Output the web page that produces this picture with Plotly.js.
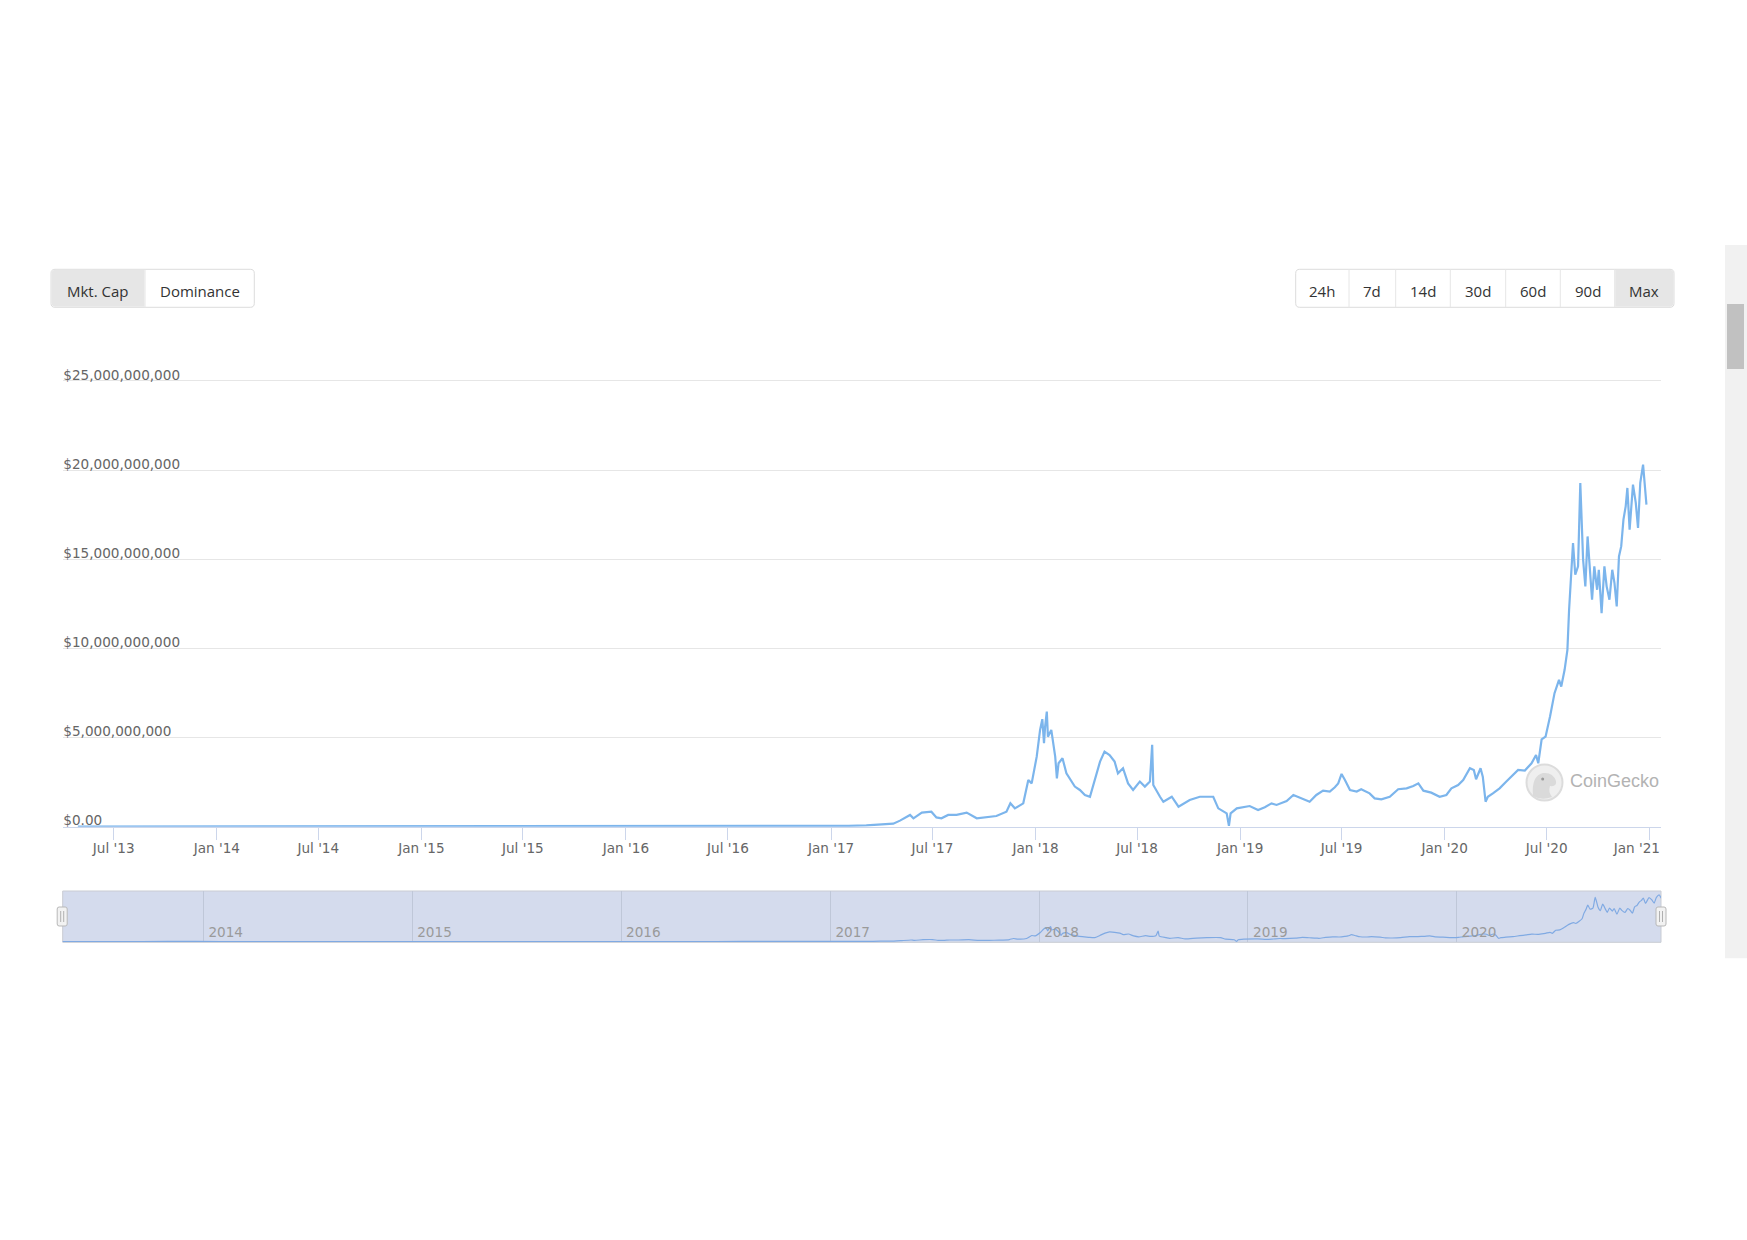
<!DOCTYPE html>
<html>
<head>
<meta charset="utf-8">
<script src="https://cdn.plot.ly/plotly-3.0.1.min.js"></script>
<style>
  html, body { margin: 0; padding: 0; background: #ffffff; }
  #chart { width: 1747px; height: 1240px; }
</style>
</head>
<body>
<div id="chart"></div>
<script>
// ---------------- DATA ----------------
const dates = [
  '2013-04-28','2013-08-01','2013-11-01','2014-02-01','2014-05-01','2014-08-01','2014-11-01',
  '2015-02-01','2015-05-01','2015-08-01','2015-11-01','2016-02-01','2016-05-01','2016-08-01',
  '2016-10-05','2016-12-01','2017-02-01','2017-03-05','2017-03-29','2017-04-22','2017-05-04',
  '2017-05-22','2017-05-28','2017-06-12','2017-06-29','2017-07-08','2017-07-17','2017-07-29',
  '2017-08-13','2017-08-31','2017-09-18','2017-10-05','2017-10-23','2017-11-10','2017-11-17',
  '2017-11-25','2017-12-10','2017-12-19','2017-12-25','2018-01-03','2018-01-09','2018-01-13',
  '2018-01-16','2018-01-18','2018-01-21','2018-01-23','2018-01-29','2018-02-05','2018-02-08',
  '2018-02-11','2018-02-18','2018-02-25','2018-03-12','2018-03-21','2018-03-30','2018-04-08',
  '2018-04-17','2018-04-26','2018-05-04','2018-05-13','2018-05-22','2018-05-28','2018-06-06',
  '2018-06-15','2018-06-24','2018-07-06','2018-07-15','2018-07-24','2018-07-28','2018-07-30',
  '2018-08-11','2018-08-17','2018-09-01','2018-09-13','2018-10-03','2018-10-21','2018-11-14',
  '2018-11-23','2018-12-08','2018-12-12','2018-12-15','2018-12-26','2019-01-18','2019-02-02',
  '2019-02-14','2019-02-26','2019-03-07','2019-03-25','2019-04-06','2019-04-18','2019-04-30',
  '2019-05-05','2019-05-17','2019-05-29','2019-06-10','2019-06-19','2019-06-25','2019-07-01',
  '2019-07-07','2019-07-16','2019-07-28','2019-08-05','2019-08-20','2019-08-29','2019-09-10',
  '2019-09-25','2019-10-10','2019-10-25','2019-11-06','2019-11-15','2019-11-24','2019-12-08',
  '2019-12-23','2020-01-04','2020-01-13','2020-01-25','2020-02-03','2020-02-15','2020-02-22',
  '2020-02-26','2020-03-05','2020-03-09','2020-03-14','2020-03-18','2020-03-27','2020-04-08',
  '2020-04-20','2020-05-02','2020-05-11','2020-05-23','2020-06-04','2020-06-12','2020-06-16',
  '2020-06-22','2020-06-29','2020-07-07','2020-07-15','2020-07-23','2020-07-27','2020-08-02',
  '2020-08-07','2020-08-10','2020-08-14','2020-08-17','2020-08-21','2020-08-26','2020-08-30',
  '2020-09-04','2020-09-08','2020-09-12','2020-09-17','2020-09-20','2020-09-24','2020-09-29',
  '2020-10-02','2020-10-07','2020-10-12','2020-10-16','2020-10-21','2020-10-26','2020-10-30',
  '2020-11-03','2020-11-07','2020-11-11','2020-11-15','2020-11-19','2020-11-22','2020-11-26',
  '2020-12-02','2020-12-07','2020-12-11','2020-12-15','2020-12-20','2020-12-23','2020-12-26'
];
// market cap in billions of USD
const marketCapBn = [
  0.004, 0.005, 0.012, 0.010, 0.006, 0.005, 0.004,
  0.003, 0.003, 0.004, 0.004, 0.005, 0.006, 0.012,
  0.05, 0.04, 0.05, 0.07, 0.12, 0.17, 0.34,
  0.66, 0.47, 0.79, 0.84, 0.52, 0.47, 0.66,
  0.66, 0.79, 0.47, 0.52, 0.60, 0.84, 1.31,
  1.03, 1.31, 2.62, 2.43, 3.93, 5.43, 6.03,
  4.68, 5.61, 6.46, 5.05, 5.43, 3.93, 2.71,
  3.56, 3.84, 2.99, 2.25, 2.06, 1.78, 1.68,
  2.62, 3.65, 4.21, 4.02, 3.65, 2.99, 3.28,
  2.43, 2.06, 2.53, 2.25, 2.53, 4.59, 2.34,
  1.68, 1.40, 1.68, 1.12, 1.50, 1.68, 1.68,
  1.03, 0.75, 0.05, 0.75, 1.03, 1.16, 0.94,
  1.09, 1.31, 1.22, 1.44, 1.78, 1.63, 1.50,
  1.40, 1.78, 2.02, 1.97, 2.21, 2.43, 2.96,
  2.62, 2.06, 1.97, 2.10, 1.87, 1.59, 1.53,
  1.68, 2.10, 2.15, 2.28, 2.43, 2.02, 1.91,
  1.68, 1.78, 2.15, 2.34, 2.62, 3.28, 3.18,
  2.66, 3.28, 2.81, 1.40, 1.68, 1.87, 2.15,
  2.53, 2.90, 3.18, 3.15, 3.56, 4.02, 3.56,
  4.90, 5.05, 6.18, 7.49, 8.24, 7.86, 8.80,
  9.92, 12.17, 14.13, 15.91, 14.13, 14.60, 19.28,
  14.98, 13.48, 16.28, 14.04, 12.73, 14.60, 13.29,
  14.41, 11.98, 14.60, 13.48, 12.73, 14.41, 13.66,
  12.35, 15.16, 15.72, 17.22, 17.97, 19.00, 16.66,
  19.19, 18.16, 16.76, 19.28, 20.31, 19.09, 18.06
];

const xTickDates  = ['2013-07-01','2014-01-01','2014-07-01','2015-01-01','2015-07-01','2016-01-01',
                     '2016-07-01','2017-01-01','2017-07-01','2018-01-01','2018-07-01','2019-01-01',
                     '2019-07-01','2020-01-01','2020-07-01','2021-01-01'];
const xTickLabels = ["Jul '13","Jan '14","Jul '14","Jan '15","Jul '15","Jan '16",
                     "Jul '16","Jan '17","Jul '17","Jan '18","Jul '18","Jan '19",
                     "Jul '19","Jan '20","Jul '20","Jan '21"];
const yTickValues = [0, 5e9, 10e9, 15e9, 20e9, 25e9];
const yTickLabels = ['$0.00','$5,000,000,000','$10,000,000,000','$15,000,000,000','$20,000,000,000','$25,000,000,000'];
const navYearDates  = ['2014-01-01','2015-01-01','2016-01-01','2017-01-01','2018-01-01','2019-01-01','2020-01-01'];
const navYearLabels = ['2014','2015','2016','2017','2018','2019','2020'];
const chartTypeButtons = ['Mkt. Cap','Dominance'];
const rangeButtons = ['24h','7d','14d','30d','60d','90d','Max'];
const watermark = 'CoinGecko';

// ---------------- LAYOUT HELPERS ----------------
const W = 1747, H = 1240;
const X = px => px / W;
const Y = py => 1 - py / H;
const mainLeft = 63.3, mainRight = 1661, mainTop = 379.9, mainBottom = 826.7;
const navLeft = 62.7, navRight = 1661, navTop = 891, navBottom = 942.3;

function rr(x0, y0, x1, y1, rTL, rTR, rBR, rBL) {
  const p = (x, y) => X(x).toFixed(6) + ',' + Y(y).toFixed(6);
  let s = 'M' + p(x0 + rTL, y0) + ' L' + p(x1 - rTR, y0);
  s += rTR ? ' Q' + p(x1, y0) + ' ' + p(x1, y0 + rTR) : '';
  s += ' L' + p(x1, y1 - rBR);
  s += rBR ? ' Q' + p(x1, y1) + ' ' + p(x1 - rBR, y1) : '';
  s += ' L' + p(x0 + rBL, y1);
  s += rBL ? ' Q' + p(x0, y1) + ' ' + p(x0, y1 - rBL) : '';
  s += ' L' + p(x0, y0 + rTL);
  s += rTL ? ' Q' + p(x0, y0) + ' ' + p(x0 + rTL, y0) : '';
  return s + ' Z';
}

const shapes = [];
const annotations = [];

// navigator background
shapes.push({type:'rect', xref:'paper', yref:'paper', layer:'below',
  x0:X(navLeft), x1:X(navRight), y0:Y(navBottom), y1:Y(navTop),
  fillcolor:'#d4dbed', line:{color:'#c9ccd3', width:1}});

// navigator handles
function handle(cx) {
  const x0 = cx - 5, x1 = cx + 5, y0 = 907, y1 = 926;
  shapes.push({type:'path', xref:'paper', yref:'paper', layer:'above',
    path: rr(x0, y0, x1, y1, 2, 2, 2, 2), fillcolor:'#f2f2f2', line:{color:'#b8b8b8', width:1}});
  [-1.5, 1.5].forEach(d => shapes.push({type:'line', xref:'paper', yref:'paper', layer:'above',
    x0:X(cx + d), x1:X(cx + d), y0:Y(911), y1:Y(922), line:{color:'#b0b0b0', width:1}}));
}
handle(navLeft - 0.5);
handle(navRight);

// scrollbar
shapes.push({type:'rect', xref:'paper', yref:'paper', layer:'below',
  x0:X(1725), x1:X(1747), y0:Y(958.3), y1:Y(245), fillcolor:'#f1f1f1', line:{width:0}});
shapes.push({type:'rect', xref:'paper', yref:'paper', layer:'above',
  x0:X(1727), x1:X(1744), y0:Y(369), y1:Y(304), fillcolor:'#c1c1c1', line:{width:0}});

// button groups
const btnTop = 269.3, btnBot = 307.3;
function buttonGroup(edges, labels, activeIdx) {
  const n = labels.length;
  const L = edges[0], R = edges[n];
  shapes.push({type:'path', xref:'paper', yref:'paper', layer:'above',
    path: rr(L, btnTop, R, btnBot, 4, 4, 4, 4), fillcolor:'#ffffff', line:{color:'#dcdcdc', width:1}});
  const a0 = edges[activeIdx], a1 = edges[activeIdx + 1];
  const rl = activeIdx === 0 ? 4 : 0, rrr = activeIdx === n - 1 ? 4 : 0;
  shapes.push({type:'path', xref:'paper', yref:'paper', layer:'above',
    path: rr(a0 + 0.5, btnTop + 0.5, a1 - 0.5, btnBot - 0.5, rl, rrr, rrr, rl), fillcolor:'#e6e6e6', line:{width:0}});
  for (let i = 1; i < n; i++) {
    shapes.push({type:'line', xref:'paper', yref:'paper', layer:'above',
      x0:X(edges[i]), x1:X(edges[i]), y0:Y(btnBot), y1:Y(btnTop), line:{color:'#e6e6e6', width:1}});
  }
  labels.forEach((t, i) => annotations.push({xref:'paper', yref:'paper',
    x:X((edges[i] + edges[i + 1]) / 2), y:Y((btnTop + btnBot) / 2 + 2.5), xanchor:'center', yanchor:'middle',
    text:t, showarrow:false, font:{family:'Open Sans, sans-serif', size:15, color:'#333333'}}));
}
buttonGroup([51, 145, 254.3], chartTypeButtons, 0);
buttonGroup([1295.7, 1349, 1395.7, 1450.3, 1505.7, 1560.3, 1614.7, 1674], rangeButtons, 6);

// CoinGecko watermark
shapes.push({type:'circle', xref:'paper', yref:'paper', layer:'above',
  x0:X(1526.5), x1:X(1562.5), y0:Y(800.5), y1:Y(764.5), fillcolor:'#efefef', line:{color:'#dcdcdc', width:2}});
shapes.push({type:'path', xref:'paper', yref:'paper', layer:'above',
  path: (() => {
    const p = (x, y) => X(x).toFixed(6) + ',' + Y(y).toFixed(6);
    return 'M' + p(1533, 796) + ' Q' + p(1531, 776) + ' ' + p(1543, 773) +
      ' Q' + p(1553, 772) + ' ' + p(1556, 781) + ' Q' + p(1557, 787) + ' ' + p(1550, 786) +
      ' Q' + p(1548, 792) + ' ' + p(1552, 797) + ' Q' + p(1542, 801) + ' ' + p(1533, 796) + ' Z';
  })(), fillcolor:'#dadada', line:{width:0}});
shapes.push({type:'circle', xref:'paper', yref:'paper', layer:'above',
  x0:X(1541.2), x1:X(1544.2), y0:Y(780.5), y1:Y(777.5), fillcolor:'#9a9a9a', line:{width:0}});
annotations.push({xref:'paper', yref:'paper', x:X(1567.5), y:Y(781), xanchor:'left', yanchor:'middle',
  text:watermark, showarrow:false, font:{family:'Liberation Sans, Arial, sans-serif', size:18, color:'#b3b3b3'}});

// ---------------- TRACES ----------------
const yValues = marketCapBn.map(v => v * 1e9);
const traces = [
  {x:dates, y:yValues, type:'scatter', mode:'lines', xaxis:'x', yaxis:'y',
   line:{color:'#7cb5ec', width:2.2}, hoverinfo:'x+y'},
  {x:dates, y:yValues, type:'scatter', mode:'lines', xaxis:'x2', yaxis:'y2',
   line:{color:'#80aae3', width:1.2, shape:'spline', smoothing:0.6}, hoverinfo:'skip'}
];

const tickFont = {family:'DejaVu Sans, sans-serif', size:13.6, color:'#666666'};
// the last x label is kept inside the plot edge (shifted left) like the original
const xTickText = xTickLabels.map((t, i) => i === xTickLabels.length - 1 ? t + '\u00A0'.repeat(6) : t);

const layout = {
  width: W, height: H,
  margin: {l:0, r:0, t:0, b:0, pad:0},
  paper_bgcolor: '#ffffff',
  plot_bgcolor: 'rgba(0,0,0,0)',
  showlegend: false,
  xaxis: {
    domain:[X(mainLeft), X(mainRight)], anchor:'y', type:'date',
    range:['2013-04-02','2021-01-21'],
    tickmode:'array', tickvals:xTickDates, ticktext:xTickText,
    ticks:'outside', ticklen:12, tickwidth:1, tickcolor:'#ccd6eb', ticklabelstandoff:-3,
    showline:true, linecolor:'#ccd6eb', linewidth:1,
    showgrid:false, zeroline:false, tickfont:tickFont, fixedrange:true
  },
  yaxis: {
    domain:[Y(mainBottom), Y(mainTop)], anchor:'free', position:X(mainLeft - 1), side:'right',
    range:[0, 25.06e9],
    tickmode:'array', tickvals:yTickValues, ticktext:yTickLabels,
    ticks:'', ticklabelposition:'outside', ticklabelshift:-6, ticklabelstandoff:0,
    showgrid:true, gridcolor:'#e6e6e6', gridwidth:1,
    showline:false, zeroline:false, tickfont:tickFont, fixedrange:true
  },
  xaxis2: {
    domain:[X(navLeft), X(navRight)], anchor:'y2', type:'date',
    range:['2013-04-30','2020-12-23'],
    tickmode:'array', tickvals:navYearDates, ticktext:navYearLabels,
    ticks:'', ticklabelposition:'inside right', ticklabelshift:5, ticklabelstandoff:-3,
    showgrid:true, gridcolor:'#bfc7d8', gridwidth:1,
    showline:false, zeroline:false,
    tickfont:{family:'DejaVu Sans, sans-serif', size:13.6, color:'#9a9a9a'}, fixedrange:true
  },
  yaxis2: {
    domain:[Y(navBottom), Y(navTop)], anchor:'x2',
    range:[-0.35e9, 22.05e9],
    showgrid:false, zeroline:false, showline:false, showticklabels:false, ticks:'', fixedrange:true
  },
  shapes: shapes,
  annotations: annotations
};

Plotly.newPlot('chart', traces, layout, {displayModeBar:false, staticPlot:true});
</script>
</body>
</html>
